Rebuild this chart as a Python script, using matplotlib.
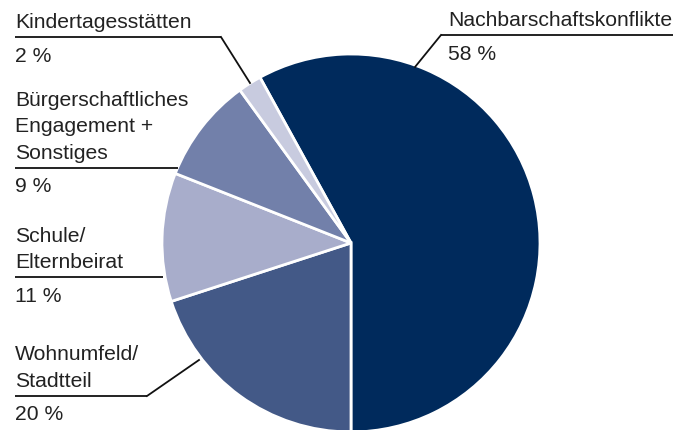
import matplotlib
matplotlib.use("Agg")
import matplotlib.pyplot as plt
import numpy as np

categories = ["Nachbarschaftskonflikte", "Wohnumfeld/\nStadtteil", "Schule/\nElternbeirat",
              "Bürgerschaftliches\nEngagement +\nSonstiges", "Kindertagesstätten"]
values = [58, 20, 11, 9, 2]
pct_labels = ["58 %", "20 %", "11 %", "9 %", "2 %"]
colors = ["#002a5c", "#435987", "#a8adcb", "#7280aa", "#c8cbdf"]

W, H = 688, 430
fig = plt.figure(figsize=(W / 100, H / 100), dpi=100)
ax = fig.add_axes([0, 0, 1, 1])
ax.set_xlim(0, W)
ax.set_ylim(0, H)
ax.set_aspect("equal")
ax.axis("off")

cx, cy, r = 351, H - 243, 189
start = 90 + values[0] / sum(values) * 360 - 180
ax.pie(values, colors=colors, startangle=start, counterclock=False,
       center=(cx, cy), radius=r, frame=True,
       wedgeprops=dict(edgecolor="white", linewidth=2))
ax.set_xlim(0, W)
ax.set_ylim(0, H)
ax.axis("off")

font = dict(family=["Liberation Sans", "DejaVu Sans"], fontsize=15.2, color="#222222")

# layout: (text x, line y (px from top), line x0, line x1, leader end or None)
layout = [
    (448, 35, 441, 673, (415, 67)),   # Nachbarschaft
    (15, 396, 15, 147, (199, 360)),   # Wohnumfeld
    (15, 277, 15, 163, None),         # Schule
    (15, 168, 15, 178, None),         # Bürger
    (15, 37, 15, 221, (250, 83)),     # Kinder
]
lh = 26.5
for cat, pct, (tx, ly, x0, x1, end) in zip(categories, pct_labels, layout):
    lines = cat.split("\n")
    n = len(lines)
    for i, ln in enumerate(lines):
        base = ly - 9 - (n - 1 - i) * lh
        ax.text(tx, H - base, ln, ha="left", va="baseline", **font)
    ax.text(tx, H - (ly + 24.5), pct, ha="left", va="baseline", **font)
    ax.plot([x0, x1], [H - ly, H - ly], color="#111111", lw=1.3, solid_capstyle="butt")
    if end is not None:
        sx = x1 if tx < 100 else x0
        ax.plot([sx, end[0]], [H - ly, H - end[1]], color="#111111", lw=1.3)

fig.savefig("out.png", dpi=100)
